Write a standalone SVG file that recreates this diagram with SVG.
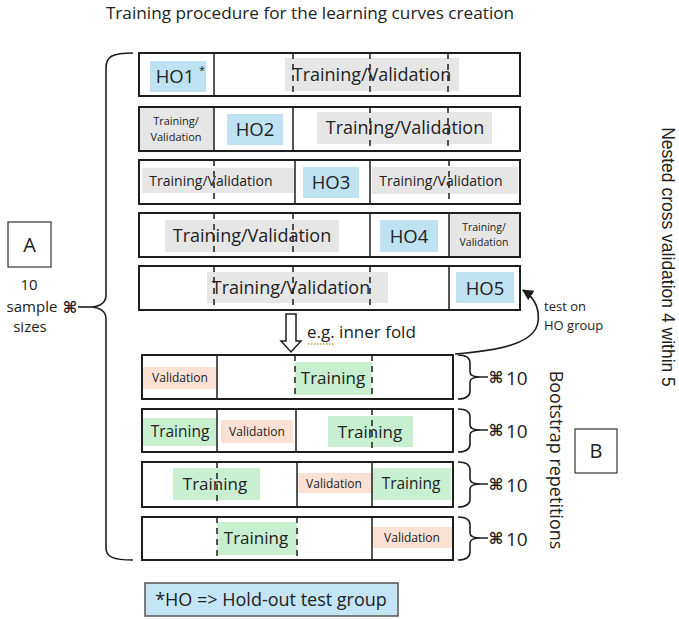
<svg xmlns="http://www.w3.org/2000/svg" width="679" height="619" viewBox="0 0 679 619">
<style>
text{font-family:"Open Sans","Liberation Sans",sans-serif;fill:#222}
.row{fill:#fff;stroke:#1e1e1e;stroke-width:2}
.sol{stroke:#1e1e1e;stroke-width:1.5}
.dsh{stroke:#1e1e1e;stroke-width:1.5;stroke-dasharray:6 5}
.gray{fill:#e6e6e6}
.blue{fill:#bfe2f3}
.green{fill:#c8efd0}
.pink{fill:#fbe0d4}
.brace{fill:none;stroke:#1e1e1e;stroke-width:1.6}
.big{font-size:18px}
.mid{font-size:14px}
.sm{font-size:12px}
.ho{font-size:18.5px}
.c{text-anchor:middle}
.lbl{font-size:15px}
.x10{font-size:19px}
.sym{font-family:"DejaVu Sans",sans-serif;font-size:16px;font-weight:bold}
</style>
<defs>
<marker id="ah" viewBox="0 0 10 10" refX="9" refY="5" markerWidth="7" markerHeight="7" orient="auto">
<path d="M0,0 L10,5 L0,10 z" fill="#1e1e1e"/>
</marker>
</defs>

<text x="310" y="19" style="font-size:17.2px" class="c" id="title">Training procedure for the learning curves creation</text>

<g id="boxA"><rect x="8" y="222" width="43" height="45" fill="#fff" stroke="#333" stroke-width="1.2"/><text x="29.5" y="252" class="c" style="font-size:20px">A</text></g>
<g id="boxB"><rect x="575" y="429" width="42" height="44" fill="#fff" stroke="#333" stroke-width="1.2"/><text x="596" y="458" class="c" style="font-size:20px">B</text></g>

<g id="samples">
<text x="29" y="290" class="c lbl">10</text>
<text x="32" y="312" class="c lbl">sample</text>
<text x="30" y="332" class="c lbl">sizes</text>
<text x="70" y="313" class="c sym">⌘</text>
</g>

<!-- Outer cross-validation rows -->
<g id="row1">
<rect class="row" x="139" y="53" width="381" height="43"/>
<rect class="blue" x="150" y="61" width="56" height="31"/>
<rect class="gray" x="285" y="58" width="174" height="33"/>
<text x="175" y="83" class="c ho">HO1</text><text x="199" y="74" style="font-size:11px">*</text>
<text x="372" y="81" class="c big">Training/Validation</text>
<line class="sol" x1="214" y1="53" x2="214" y2="96"/>
<line class="dsh" x1="293" y1="53" x2="293" y2="96"/>
<line class="dsh" x1="370" y1="53" x2="370" y2="96"/>
<line class="dsh" x1="448" y1="53" x2="448" y2="96"/>
</g>

<g id="row2">
<rect class="row" x="139" y="107" width="381" height="44"/>
<rect class="gray" x="140" y="108" width="74" height="42"/>
<text x="176" y="125" class="c" style="font-size:11px">Training/</text>
<text x="176" y="141" class="c" style="font-size:11px">Validation</text>
<rect class="blue" x="227" y="114" width="56" height="31"/>
<text x="255" y="136" class="c ho">HO2</text>
<rect class="gray" x="317" y="112" width="175" height="32"/>
<text x="405" y="134" class="c big">Training/Validation</text>
<line class="sol" x1="214" y1="107" x2="214" y2="151"/>
<line class="sol" x1="293" y1="107" x2="293" y2="151"/>
<line class="dsh" x1="370" y1="107" x2="370" y2="151"/>
<line class="dsh" x1="448" y1="107" x2="448" y2="151"/>
</g>

<g id="row3">
<rect class="row" x="139" y="160" width="381" height="44"/>
<rect class="gray" x="142" y="168" width="153" height="25"/>
<text x="211" y="186" class="c mid">Training/Validation</text>
<rect class="blue" x="303" y="167" width="56" height="31"/>
<text x="331" y="189" class="c ho">HO3</text>
<rect class="gray" x="372" y="167" width="146" height="27"/>
<text x="441" y="186" class="c mid">Training/Validation</text>
<line class="dsh" x1="214" y1="160" x2="214" y2="204"/>
<line class="sol" x1="295" y1="160" x2="295" y2="204"/>
<line class="sol" x1="370" y1="160" x2="370" y2="204"/>
<line class="dsh" x1="449" y1="160" x2="449" y2="204"/>
</g>

<g id="row4">
<rect class="row" x="139" y="213" width="381" height="44"/>
<rect class="gray" x="165" y="220" width="174" height="32"/>
<text x="252" y="242" class="c big">Training/Validation</text>
<rect class="blue" x="380" y="220" width="58" height="32"/>
<text x="409" y="243" class="c ho">HO4</text>
<rect class="gray" x="449" y="214" width="70" height="42"/>
<text x="484" y="231" class="c" style="font-size:10.5px">Training/</text>
<text x="484" y="246" class="c" style="font-size:10.5px">Validation</text>
<line class="dsh" x1="214" y1="213" x2="214" y2="257"/>
<line class="dsh" x1="293" y1="213" x2="293" y2="257"/>
<line class="sol" x1="370" y1="213" x2="370" y2="257"/>
<line class="sol" x1="449" y1="213" x2="449" y2="257"/>
</g>

<g id="row5">
<rect class="row" x="139" y="266" width="381" height="44"/>
<rect class="gray" x="207" y="272" width="181" height="31"/>
<text x="291" y="294" class="c big">Training/Validation</text>
<rect class="blue" x="456" y="272" width="58" height="31"/>
<text x="485" y="295" class="c ho">HO5</text>
<line class="dsh" x1="214" y1="266" x2="214" y2="310"/>
<line class="dsh" x1="293" y1="266" x2="293" y2="310"/>
<line class="dsh" x1="370" y1="266" x2="370" y2="310"/>
<line class="sol" x1="449" y1="266" x2="449" y2="310"/>
</g>

<!-- Bootstrap rows -->
<g id="boot1">
<rect class="row" x="142" y="355" width="311" height="44"/>
<rect class="pink" x="143" y="367" width="74" height="22"/>
<text x="180" y="382" class="c sm">Validation</text>
<rect class="green" x="295" y="362" width="77" height="33"/>
<text x="333" y="384" class="c" style="font-size:17px">Training</text>
<line class="sol" x1="217" y1="355" x2="217" y2="399"/>
<line class="dsh" x1="295" y1="355" x2="295" y2="399"/>
<line class="dsh" x1="372" y1="355" x2="372" y2="399"/>
</g>

<g id="boot2">
<rect class="row" x="142" y="409" width="311" height="43"/>
<rect class="green" x="143" y="418" width="74" height="28"/>
<text x="180" y="437" class="c" style="font-size:15.5px">Training</text>
<rect class="pink" x="221" y="420" width="72" height="23"/>
<text x="257" y="436" class="c sm">Validation</text>
<rect class="green" x="328" y="416" width="85" height="31"/>
<text x="370" y="438" class="c" style="font-size:17px">Training</text>
<line class="sol" x1="217" y1="409" x2="217" y2="452"/>
<line class="sol" x1="296" y1="409" x2="296" y2="452"/>
<line class="dsh" x1="372" y1="409" x2="372" y2="452"/>
</g>

<g id="boot3">
<rect class="row" x="142" y="462" width="311" height="45"/>
<rect class="green" x="173" y="468" width="87" height="32"/>
<text x="215" y="490" class="c" style="font-size:17px">Training</text>
<rect class="pink" x="297" y="473" width="75" height="20"/>
<text x="334" y="488" class="c sm">Validation</text>
<rect class="green" x="372" y="468" width="79" height="32"/>
<text x="411" y="489" class="c" style="font-size:15.5px">Training</text>
<line class="dsh" x1="217" y1="462" x2="217" y2="507"/>
<line class="sol" x1="297" y1="462" x2="297" y2="507"/>
<line class="sol" x1="372" y1="462" x2="372" y2="507"/>
</g>

<g id="boot4">
<rect class="row" x="142" y="517" width="311" height="43"/>
<rect class="green" x="217" y="522" width="80" height="33"/>
<text x="256" y="544" class="c" style="font-size:17px">Training</text>
<rect class="pink" x="372" y="527" width="80" height="21"/>
<text x="412" y="542" class="c sm">Validation</text>
<line class="dsh" x1="217" y1="517" x2="217" y2="560"/>
<line class="dsh" x1="297" y1="517" x2="297" y2="560"/>
<line class="sol" x1="372" y1="517" x2="372" y2="560"/>
</g>

<g id="reps">
<text x="496" y="383" class="c sym">⌘</text><text x="506" y="385" class="x10">10</text>
<text x="496" y="436" class="c sym">⌘</text><text x="506" y="438" class="x10">10</text>
<text x="496" y="490" class="c sym">⌘</text><text x="506" y="492" class="x10">10</text>
<text x="496" y="544" class="c sym">⌘</text><text x="506" y="546" class="x10">10</text>
</g>

<g id="side-labels">
<text transform="translate(662,257) rotate(90)" class="c" style="font-family:'Liberation Sans',sans-serif;font-size:17.5px">Nested cross validation 4 within 5</text>
<text transform="translate(550,460) rotate(90)" class="c" style="font-size:18px">Bootstrap repetitions</text>
</g>

<g id="legend">
<rect x="145" y="583" width="253" height="33" fill="#c3e5f5" stroke="#555" stroke-width="1.5"/>
<text x="271" y="606" class="c" style="font-size:18px">*HO =&gt; Hold-out test group</text>
</g>

<g id="connectors">
<path class="brace" d="M133,53 C113,53 106,56 106,68 L106,295 C106,302 101,306 92,307 C101,308 106,312 106,319 L106,548 C106,557 113,560 133,560"/>
<line class="brace" x1="78" y1="307" x2="92" y2="307"/>
<path class="brace" d="M458,355 C466,355 470,357 470,363 L470,372 C470,375 473,377 481,377 C473,377 470,379 470,382 L470,391 C470,397 466,399 458,399 M481,377 L488,377"/>
<path class="brace" d="M458,409 C466,409 470,411 470,417 L470,425 C470,428 473,430 481,430 C473,430 470,432 470,435 L470,444 C470,450 466,452 458,452 M481,430 L488,430"/>
<path class="brace" d="M458,462 C466,462 470,464 470,470 L470,479 C470,482 473,484 481,484 C473,484 470,486 470,489 L470,499 C470,505 466,507 458,507 M481,484 L488,484"/>
<path class="brace" d="M458,517 C466,517 470,519 470,525 L470,533 C470,536 473,538 481,538 C473,538 470,540 470,543 L470,552 C470,558 466,560 458,560 M481,538 L488,538"/>
<polygon points="286,314 296,314 296,341 301,341 291,352 281,341 286,341" fill="#fff" stroke="#1e1e1e" stroke-width="1.5"/>
<path d="M455,354 C505,350 535,342 538,322 C540,306 532,296 523,290" fill="none" stroke="#1e1e1e" stroke-width="1.6" marker-end="url(#ah)"/>
</g>

<g id="annotations">
<text x="307" y="338" style="font-size:17px">e.g. inner fold</text>
<line x1="308" y1="344" x2="334" y2="344" stroke="#b59a3a" stroke-width="1.3" stroke-dasharray="1.5 1.5"/>
<text x="544" y="311" style="font-size:13px">test on</text>
<text x="544" y="330" style="font-size:13px">HO group</text>
</g>
</svg>
